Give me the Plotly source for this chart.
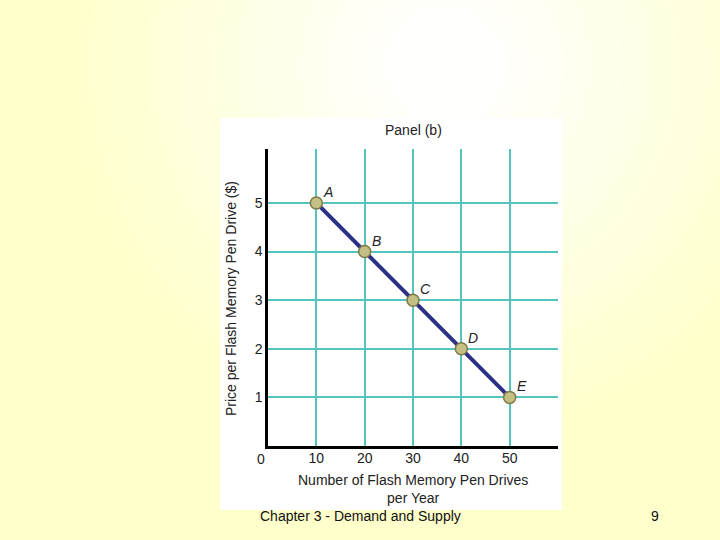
import plotly.graph_objects as go

# Data
quantity = [10, 20, 30, 40, 50]
price = [5, 4, 3, 2, 1]
point_labels = ["A", "B", "C", "D", "E"]
x_ticks = [10, 20, 30, 40, 50]
y_ticks = [1, 2, 3, 4, 5]

W, H = 720, 540

def px(x):
    return x / W

def py(y):
    return 1 - y / H

shapes = []
# radial yellow-white gradient background
cx, cy = 445, 65
R = 340
N = 30
for i in range(N):
    r = R * (1 - i / N) + 40
    f = min(1.0, max(0.0, (r - 40) / R))
    b = int(round(255 - 51 * f))
    shapes.append(dict(type="circle", xref="paper", yref="paper",
                       x0=px(cx - r), x1=px(cx + r), y0=py(cy + r), y1=py(cy - r),
                       fillcolor=f"rgb(255,255,{b})", line=dict(width=0), layer="below"))
# white panel
shapes.append(dict(type="rect", xref="paper", yref="paper",
                   x0=px(220), x1=px(562), y0=py(510), y1=py(118),
                   fillcolor="white", line=dict(width=0), layer="below"))

fig = go.Figure()
fig.add_trace(go.Scatter(
    x=quantity, y=price, mode="lines+markers",
    line=dict(color="#2b2f86", width=4),
    marker=dict(size=12, color="#c4bf82", line=dict(color="#7d7a4a", width=1.5)),
    hoverinfo="skip", showlegend=False))

font = dict(family="Liberation Sans, Arial", size=14, color="#222")

annotations = []
for xq, yp, lab in zip(quantity, price, point_labels):
    annotations.append(dict(x=xq, y=yp, xref="x", yref="y", text="<i>" + lab + "</i>",
                            showarrow=False, xshift=12, yshift=11,
                            xanchor="center", yanchor="middle", font=font))

def pa(x, y, text, **kw):
    d = dict(x=px(x), y=py(y), xref="paper", yref="paper", text=text, showarrow=False,
             xanchor="center", yanchor="middle", font=font)
    d.update(kw)
    return d

annotations += [
    dict(x=0, y=0, xref="x", yref="y", text="0", showarrow=False, xshift=-7, yshift=-13,
         xanchor="center", yanchor="middle", font=font),
    pa(413, 130, "Panel (b)"),
    pa(231, 299, "Price per Flash Memory Pen Drive ($)", textangle=-90),
    pa(413, 489, "Number of Flash Memory Pen Drives<br>per Year"),
    pa(360, 516, "Chapter 3 - Demand and Supply",
       font=dict(family="Liberation Sans, Arial", size=14, color="#111")),
    pa(655, 516, "9", font=dict(family="Liberation Sans, Arial", size=14, color="#111")),
]

fig.update_layout(
    width=W, height=H,
    margin=dict(l=0, r=0, t=0, b=0),
    paper_bgcolor="#FFFFCC", plot_bgcolor="rgba(0,0,0,0)",
    shapes=shapes, annotations=annotations,
    xaxis=dict(domain=[px(268), px(558)], range=[0, 60], tickvals=x_ticks,
               showgrid=True, gridcolor="#55c3c0", gridwidth=1.5, zeroline=False,
               showline=True, linecolor="black", linewidth=2.5, ticks="",
               ticklabelstandoff=-3, tickfont=font, fixedrange=True),
    yaxis=dict(domain=[py(446), py(149)], range=[0, 6.11], tickvals=y_ticks,
               showgrid=True, gridcolor="#55c3c0", gridwidth=1.5, zeroline=False,
               showline=True, linecolor="black", linewidth=2.5, ticks="",
               tickfont=font, fixedrange=True),
)

fig.write_html("out.html", config={"displayModeBar": False},
               post_script="document.body.style.margin='0';")
